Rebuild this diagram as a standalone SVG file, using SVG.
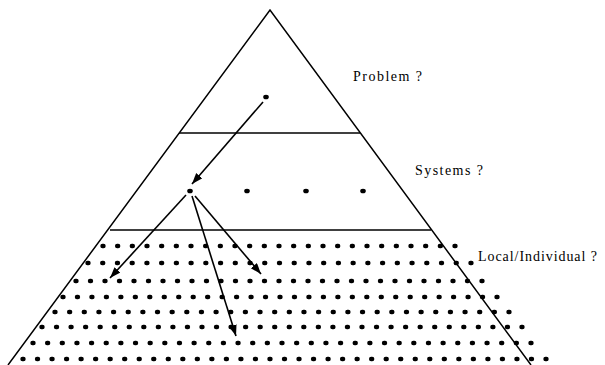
<svg xmlns="http://www.w3.org/2000/svg" width="605" height="365" viewBox="0 0 605 365">
<style>
.edge{fill:none;stroke:#000;stroke-width:1.5}
.band{stroke-width:1.3}
.lbl{font-family:"Liberation Serif","Times New Roman",serif;font-size:14px;fill:#000}
.row{stroke:#000;stroke-width:4.4;stroke-linecap:round;fill:none}
.arr{stroke:#000;stroke-width:1.6;fill:none;marker-end:url(#ah)}
</style>
<defs>
<marker id="ah" markerUnits="userSpaceOnUse" markerWidth="13" markerHeight="10" refX="11" refY="4" orient="auto">
<path d="M0,0 L11,4 L0,8 z" fill="#000"/>
</marker>
</defs>
<rect width="605" height="365" fill="#fff"/>
<g id="pyramid">
<polyline class="edge" points="8,365 270,10 531,365"/>
<line class="edge band" x1="179" y1="133" x2="360" y2="133"/>
<line class="edge band" x1="110" y1="230" x2="431" y2="230" stroke="#444"/>
</g>
<g id="problem-level">
<ellipse cx="266" cy="97" rx="2.8" ry="2.3"/>
<text class="lbl" x="353" y="81" textLength="69" lengthAdjust="spacing">Problem ?</text>
</g>
<g id="systems-level">
<ellipse cx="190" cy="191" rx="2.8" ry="2.3"/>
<ellipse cx="247" cy="191" rx="2.8" ry="2.3"/>
<ellipse cx="306" cy="191" rx="2.8" ry="2.3"/>
<ellipse cx="363" cy="191" rx="2.8" ry="2.3"/>
<text class="lbl" x="415" y="175" textLength="68" lengthAdjust="spacing">Systems ?</text>
</g>
<g id="local-level">
<line class="row" x1="102.5" y1="246" x2="455.5" y2="246" stroke-dasharray="1 13.667"/>
<line class="row" x1="87.5" y1="263" x2="471.5" y2="263" stroke-dasharray="1 13.73"/>
<line class="row" x1="75.5" y1="281" x2="482.5" y2="281" stroke-dasharray="1 13.5"/>
<line class="row" x1="62.5" y1="297" x2="497.5" y2="297" stroke-dasharray="1 13.467"/>
<line class="row" x1="54.5" y1="312" x2="509.5" y2="312" stroke-dasharray="1 13.645"/>
<line class="row" x1="41.5" y1="327" x2="522.5" y2="327" stroke-dasharray="1 13.545"/>
<line class="row" x1="32.5" y1="343" x2="531.5" y2="343" stroke-dasharray="1 13.647"/>
<line class="row" x1="22.5" y1="359" x2="546.5" y2="359" stroke-dasharray="1 13.528"/>
<text class="lbl" x="478" y="261" textLength="119" lengthAdjust="spacing">Local/Individual ?</text>
</g>
<g id="connectors">
<line class="arr" x1="263" y1="102" x2="192" y2="184"/>
<line class="arr" x1="186" y1="195" x2="110" y2="278"/>
<line class="arr" x1="195" y1="196" x2="261" y2="274"/>
<line class="arr" x1="192" y1="196" x2="236" y2="336"/>
</g>
</svg>
